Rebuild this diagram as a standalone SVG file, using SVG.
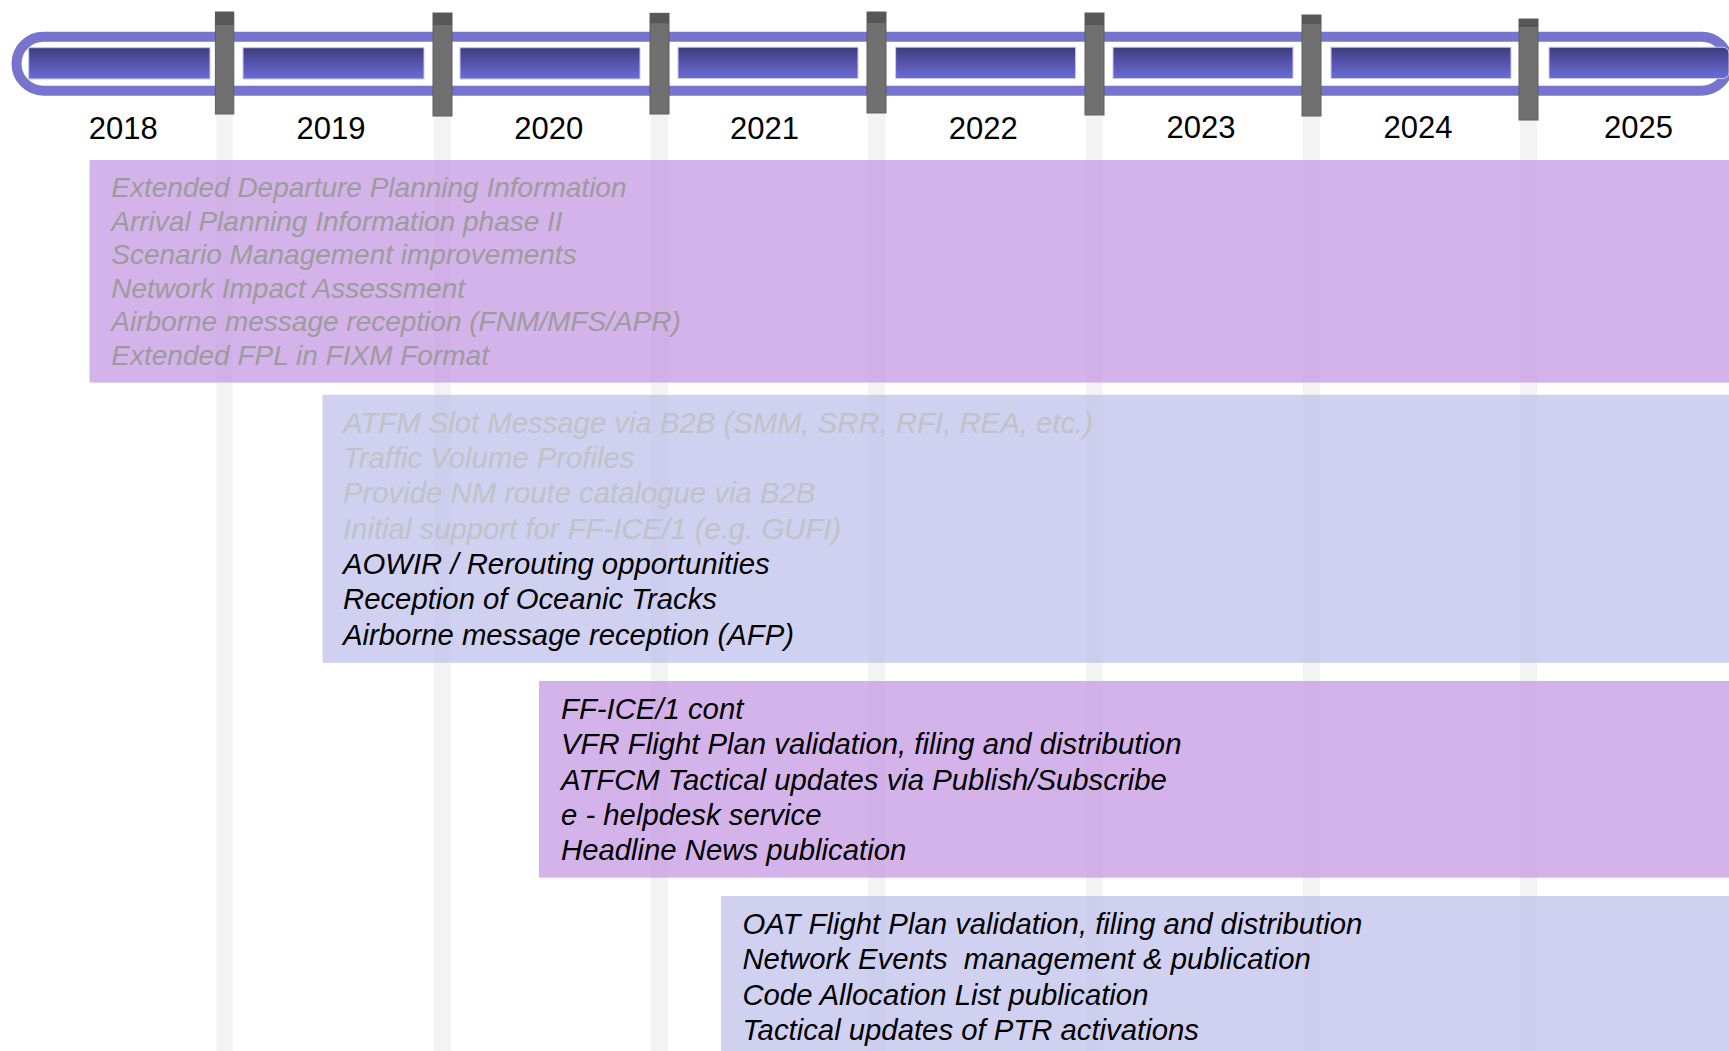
<svg xmlns="http://www.w3.org/2000/svg" width="1729" height="1051" viewBox="0 0 1729 1051">
<defs>
<linearGradient id="barGrad" x1="0" y1="0" x2="0" y2="1">
<stop offset="0" stop-color="#3e3b7e"/>
<stop offset="0.5" stop-color="#5654ad"/>
<stop offset="1" stop-color="#6c6bd6"/>
</linearGradient>
<style>
.bar{fill:url(#barGrad);stroke:#c8c8ee;stroke-width:1}
.col{fill:#f3f3f3}
.div{fill:#707070;stroke:#5e5e5e;stroke-width:1}
.cap{fill:#575757}
.year{font-family:"Liberation Sans",Arial,sans-serif;font-size:31px;fill:#000;text-anchor:middle}
.t28{font-family:"Liberation Sans",Arial,sans-serif;font-size:28px;font-style:italic}
.t29{font-family:"Liberation Sans",Arial,sans-serif;font-size:29.3px;font-style:italic;white-space:pre}
.purple{fill:#c093e0;fill-opacity:0.7}
.lav{fill:#bcbcea;fill-opacity:0.7}
.g1{fill:#9c9c9c}
.g2{fill:#c2c2c6}
.blk{fill:#000}
</style>
</defs>
<rect width="1729" height="1051" fill="#fff"/>

<g id="columns">
<rect class="col" x="216.4" y="114" width="16.4" height="937"/>
<rect class="col" x="434" y="116" width="17" height="935"/>
<rect class="col" x="651" y="114" width="17" height="937"/>
<rect class="col" x="868" y="113" width="17" height="938"/>
<rect class="col" x="1086" y="115" width="17" height="936"/>
<rect class="col" x="1303" y="116" width="17" height="935"/>
<rect class="col" x="1520" y="120" width="17" height="931"/>
</g>

<g id="timeline">
<rect x="16.5" y="36.7" width="1712" height="54" rx="27" ry="27" fill="none" stroke="#7674cc" stroke-width="10"/>
<rect class="bar" x="28.7" y="47.7" width="181.3" height="31.3"/>
<rect class="bar" x="243" y="47.7" width="181" height="31.3"/>
<rect class="bar" x="460" y="47.7" width="180" height="31.3"/>
<rect class="bar" x="678" y="47.2" width="180" height="31.3"/>
<rect class="bar" x="895.6" y="47.2" width="180" height="31.3"/>
<rect class="bar" x="1113" y="47.2" width="180" height="31.3"/>
<rect class="bar" x="1331" y="47.2" width="180" height="31.3"/>
<path d="M1549 47.2 H1722 Q1729 47.2 1729 54 V72 Q1729 78.5 1722 78.5 H1549 Z" class="bar"/>
</g>

<g id="dividers">
<rect class="div" x="215.4" y="12" width="18.4" height="102"/><rect class="cap" x="215.4" y="12" width="18.4" height="13"/>
<rect class="div" x="433" y="13" width="19" height="103"/><rect class="cap" x="433" y="13" width="19" height="12"/>
<rect class="div" x="650" y="13.3" width="19" height="100.7"/><rect class="cap" x="650" y="13.3" width="19" height="10"/>
<rect class="div" x="867" y="12" width="19" height="101"/><rect class="cap" x="867" y="12" width="19" height="11"/>
<rect class="div" x="1085" y="13" width="19" height="102"/><rect class="cap" x="1085" y="13" width="19" height="12"/>
<rect class="div" x="1302" y="15" width="19" height="101"/><rect class="cap" x="1302" y="15" width="19" height="9"/>
<rect class="div" x="1519" y="19" width="19" height="101"/><rect class="cap" x="1519" y="19" width="19" height="8"/>
</g>

<g id="years">
<text class="year" x="123.2" y="139">2018</text>
<text class="year" x="331" y="139">2019</text>
<text class="year" x="548.8" y="139">2020</text>
<text class="year" x="764.6" y="138.5">2021</text>
<text class="year" x="983.3" y="138.5">2022</text>
<text class="year" x="1201" y="138">2023</text>
<text class="year" x="1418" y="138">2024</text>
<text class="year" x="1638.5" y="137.5">2025</text>
</g>

<g id="box1">
<rect class="purple" x="89.5" y="160" width="1639.5" height="222.6"/>
<text class="t28 g1" x="111.3" y="197">Extended Departure Planning Information</text>
<text class="t28 g1" x="111.3" y="230.5">Arrival Planning Information phase II</text>
<text class="t28 g1" x="111.3" y="264">Scenario Management improvements</text>
<text class="t28 g1" x="111.3" y="297.5">Network Impact Assessment</text>
<text class="t28 g1" x="111.3" y="331">Airborne message reception (FNM/MFS/APR)</text>
<text class="t28 g1" x="111.3" y="364.5">Extended FPL in FIXM Format</text>
</g>

<g id="box2">
<rect class="lav" x="322.5" y="394.8" width="1406.5" height="268"/>
<text class="t29 g2" x="343" y="432.8">ATFM Slot Message via B2B (SMM, SRR, RFI, REA, etc.)</text>
<text class="t29 g2" x="343" y="468">Traffic Volume Profiles</text>
<text class="t29 g2" x="343" y="503.4">Provide NM route catalogue via B2B</text>
<text class="t29 g2" x="343" y="538.7">Initial support for FF-ICE/1 (e.g. GUFI)</text>
<text class="t29 blk" x="343" y="574">AOWIR / Rerouting opportunities</text>
<text class="t29 blk" x="343" y="609.3">Reception of Oceanic Tracks</text>
<text class="t29 blk" x="343" y="644.5">Airborne message reception (AFP)</text>
</g>

<g id="box3">
<rect class="purple" x="539" y="681" width="1690" height="196.7"/>
<text class="t29 blk" x="561" y="719">FF-ICE/1 cont</text>
<text class="t29 blk" x="561" y="754.3">VFR Flight Plan validation, filing and distribution</text>
<text class="t29 blk" x="561" y="789.6">ATFCM Tactical updates via Publish/Subscribe</text>
<text class="t29 blk" x="561" y="824.9">e - helpdesk service</text>
<text class="t29 blk" x="561" y="860.2">Headline News publication</text>
</g>

<g id="box4">
<rect class="lav" x="721" y="896" width="1008" height="155"/>
<text class="t29 blk" x="742.4" y="934">OAT Flight Plan validation, filing and distribution</text>
<text class="t29 blk" x="742.4" y="969.3">Network Events  management &amp; publication</text>
<text class="t29 blk" x="742.4" y="1004.6">Code Allocation List publication</text>
<text class="t29 blk" x="742.4" y="1039.9">Tactical updates of PTR activations</text>
</g>
</svg>
